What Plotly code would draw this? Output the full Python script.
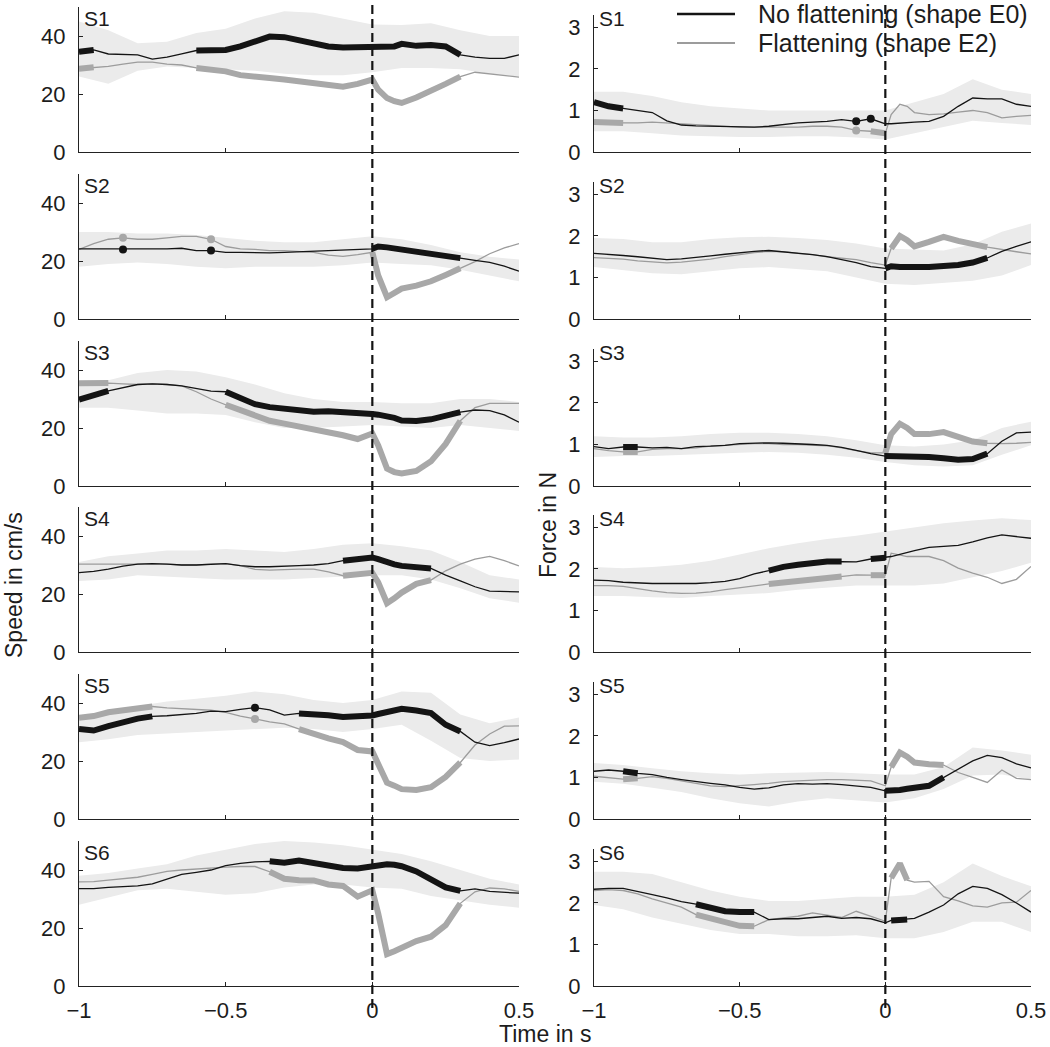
import plotly.graph_objects as go

# ---------------- data ----------------
T = [-1.0, -0.95, -0.9, -0.85, -0.8, -0.75, -0.7, -0.65, -0.6, -0.55, -0.5, -0.45, -0.4, -0.35,
     -0.3, -0.25, -0.2, -0.15, -0.1, -0.05, 0.0, 0.02, 0.05, 0.075, 0.1, 0.15, 0.2, 0.25, 0.3,
     0.35, 0.4, 0.45, 0.5]
TB = [-1.0, -0.9, -0.8, -0.7, -0.6, -0.5, -0.4, -0.3, -0.2, -0.1, 0.0, 0.1, 0.2, 0.3, 0.4, 0.5]

SUBJECTS = ["S1", "S2", "S3", "S4", "S5", "S6"]
X_TICKS = [-1, -0.5, 0, 0.5]
X_TICKTEXT = ["\u22121", "\u22120.5", "0", "0.5"]
SPEED_TICKS = [0, 20, 40]
FORCE_TICKS = [0, 1, 2, 3]
LEGEND_LABELS = ["No flattening (shape E0)", "Flattening (shape E2)"]

# Speed (cm/s)
SPD_S1_E0 = [34.6, 35.2, 33.8, 33.7, 33.5, 32.0, 32.7, 33.8, 35.0, 35.2, 35.2, 36.4, 38.0, 39.8, 39.6, 38.4, 37.7, 36.4, 36.0, 36.0, 36.1, 36.1, 36.4, 36.4, 37.3, 36.6, 36.9, 36.4, 33.5, 32.7, 32.3, 32.3, 33.5]
SPD_S1_E2 = [28.7, 29.2, 29.5, 30.3, 31.0, 31.0, 30.3, 30.0, 29.0, 28.5, 27.8, 26.5, 25.8, 25.5, 25.0, 24.3, 23.7, 23.0, 22.5, 23.5, 25.0, 21.5, 18.6, 17.5, 16.9, 18.8, 21.0, 23.5, 26.0, 27.5, 27.0, 26.5, 25.8]
SPD_S1_HI = [45, 42, 37.5, 38, 41, 42.5, 46, 48.5, 48, 46, 44, 43.8, 44.4, 42, 40, 40]
SPD_S1_LO = [26, 23.5, 28, 29.5, 29, 28.5, 28, 27, 26.5, 26.5, 27.5, 29, 29, 28.5, 27, 26]
SPD_S1_SIG_E0 = [[-1.0, -0.92], [-0.62, 0.32]]
SPD_S1_SIG_E2 = [[-1.0, -0.92], [-0.64, 0.33]]

SPD_S2_E0 = [24.2, 24.2, 24.0, 24.0, 24.2, 24.2, 24.2, 24.4, 23.6, 23.6, 23.0, 23.0, 22.8, 22.8, 23.0, 23.2, 23.4, 23.4, 23.6, 23.8, 24.2, 25.0, 24.7, 24.3, 24.0, 23.5, 22.8, 21.8, 21.0, 20.2, 19.5, 18.2, 16.5]
SPD_S2_E2 = [24.0, 26.0, 27.5, 28.0, 27.5, 27.5, 28.0, 28.5, 28.5, 27.5, 25.0, 24.2, 24.0, 23.6, 23.6, 23.4, 23.0, 22.0, 21.6, 22.2, 23.0, 15.0, 7.5, 9.0, 10.5, 11.5, 13.0, 15.2, 17.5, 19.8, 22.5, 24.5, 26.0]
SPD_S2_HI = [30, 30, 29.5, 29.5, 29, 28, 27, 26.5, 26.5, 27.5, 28.5, 27.5, 25.5, 23, 21.5, 20.5]
SPD_S2_LO = [18, 19, 19.5, 19, 18, 17.5, 18, 18, 18, 18.5, 19.5, 19, 18.5, 17, 15, 13]
SPD_S2_SIG_E0 = [[-0.86, -0.84], [-0.56, -0.54], [0.0, 0.32]]
SPD_S2_SIG_E2 = [[-0.86, -0.84], [-0.56, -0.54], [0.0, 0.32]]

SPD_S3_E0 = [29.8, 31.5, 32.8, 34.0, 35.0, 35.2, 35.0, 34.5, 33.5, 32.7, 32.5, 30.5, 28.2, 27.2, 26.5, 26.0, 25.6, 25.8, 25.6, 25.2, 24.8, 24.6, 24.2, 23.5, 22.6, 22.4, 23.0, 24.0, 25.5, 26.2, 26.0, 24.5, 22.0]
SPD_S3_E2 = [35.4, 35.4, 35.5, 35.2, 35.0, 35.2, 35.0, 34.5, 32.5, 30.0, 28.0, 26.0, 24.0, 22.5, 21.5, 20.5, 19.8, 18.7, 17.5, 16.2, 18.1, 14.0, 6.0, 4.8, 4.3, 5.2, 8.5, 14.5, 22.5, 27.0, 28.5, 28.5, 28.5]
SPD_S3_HI = [36, 36.5, 39, 40, 39.5, 37.5, 35, 32, 30, 29, 29, 28.5, 28.5, 30, 30, 29]
SPD_S3_LO = [27, 27, 26, 25, 25, 24.5, 22, 20, 20, 20.5, 21, 20.5, 20, 21, 20, 19]
SPD_S3_SIG_E0 = [[-1.0, -0.9], [-0.5, 0.32]]
SPD_S3_SIG_E2 = [[-1.0, -0.9], [-0.54, 0.33]]

SPD_S4_E0 = [27.4, 27.8, 28.6, 29.6, 30.3, 30.5, 30.3, 30.0, 30.0, 30.3, 30.5, 29.8, 29.4, 29.4, 29.7, 29.8, 30.0, 30.5, 31.5, 32.3, 32.6, 32.0, 30.9, 30.2, 29.7, 29.5, 28.8, 26.5, 24.5, 22.5, 21.0, 20.8, 20.7]
SPD_S4_E2 = [30.3, 30.3, 30.3, 30.3, 30.3, 30.5, 30.3, 30.0, 30.0, 30.3, 30.5, 29.8, 28.5, 28.2, 28.5, 28.6, 28.6, 27.6, 26.3, 26.6, 27.3, 24.0, 16.8, 18.5, 20.5, 23.5, 24.8, 28.0, 30.3, 32.0, 33.0, 31.5, 29.7]
SPD_S4_HI = [31, 33, 34, 35, 35, 35.5, 35, 34.5, 35.5, 37, 37.5, 36.5, 35, 31, 26.5, 25]
SPD_S4_LO = [24.5, 25, 26.5, 26, 25.5, 25, 25, 25, 25.5, 26, 26.5, 26.5, 25, 22, 18.5, 17]
SPD_S4_SIG_E0 = [[-0.14, 0.22]]
SPD_S4_SIG_E2 = [[-0.14, 0.22]]

SPD_S5_E0 = [31.0, 30.5, 32.0, 33.5, 34.6, 35.4, 35.6, 36.0, 36.4, 37.2, 37.0, 37.8, 38.4, 37.6, 35.8, 36.4, 36.2, 35.8, 35.2, 35.2, 35.7, 36.2, 36.8, 37.4, 38.0, 37.4, 36.5, 32.5, 30.2, 26.5, 25.3, 26.3, 27.6]
SPD_S5_E2 = [34.9, 35.5, 36.8, 37.5, 38.0, 38.8, 38.3, 38.0, 37.8, 37.5, 36.8, 35.5, 34.5, 33.5, 32.8, 31.0, 29.3, 27.8, 26.5, 23.8, 23.3, 19.0, 12.5, 11.5, 10.3, 10.0, 11.0, 14.5, 19.5, 25.5, 29.3, 32.0, 32.1]
SPD_S5_HI = [34.5, 36, 39, 40.5, 41.5, 42.5, 44, 43, 41, 40, 41, 44, 43.5, 36, 33, 35]
SPD_S5_LO = [26.5, 27.5, 29, 29.5, 30, 30.5, 31, 31.5, 31, 30, 31, 32.5, 27, 21, 20, 20.5]
SPD_S5_SIG_E0 = [[-1.0, -0.74], [-0.41, -0.39], [-0.28, 0.34]]
SPD_S5_SIG_E2 = [[-1.0, -0.74], [-0.41, -0.39], [-0.27, 0.34]]

SPD_S6_E0 = [33.6, 33.6, 34.0, 34.2, 34.5, 35.2, 36.8, 38.5, 39.2, 40.0, 41.5, 42.3, 42.8, 43.0, 42.5, 43.3, 42.5, 41.2, 40.7, 40.5, 41.5, 41.8, 42.0, 41.8, 41.3, 39.5, 36.8, 34.0, 32.8, 33.5, 32.6, 32.3, 32.0]
SPD_S6_E2 = [35.9, 36.0, 36.5, 37.0, 37.5, 38.5, 39.5, 40.0, 40.4, 40.6, 41.0, 41.2, 41.2, 39.4, 37.0, 36.5, 36.4, 35.0, 34.5, 30.8, 33.0, 25.0, 11.0, 12.0, 13.1, 15.5, 17.0, 21.0, 28.5, 32.5, 33.8, 33.5, 32.6]
SPD_S6_HI = [38, 39, 40.5, 42, 45, 47, 49, 50, 49.5, 48.5, 47, 45.5, 43, 40, 37, 35]
SPD_S6_LO = [28, 30.5, 33, 33.5, 32.5, 31.5, 32, 34, 35, 35, 34, 33.5, 31, 29.5, 28, 27]
SPD_S6_SIG_E0 = [[-0.36, 0.33]]
SPD_S6_SIG_E2 = [[-0.36, 0.33]]

# Force (N)
FRC_S1_E0 = [1.2, 1.1, 1.05, 1.0, 0.95, 0.75, 0.65, 0.63, 0.62, 0.62, 0.6, 0.6, 0.62, 0.66, 0.7, 0.72, 0.74, 0.78, 0.74, 0.8, 0.68, 0.68, 0.7, 0.7, 0.72, 0.74, 0.86, 1.1, 1.3, 1.28, 1.28, 1.15, 1.1]
FRC_S1_E2 = [0.72, 0.72, 0.7, 0.7, 0.72, 0.7, 0.68, 0.66, 0.64, 0.62, 0.6, 0.6, 0.6, 0.6, 0.6, 0.62, 0.62, 0.6, 0.52, 0.5, 0.45, 0.9, 1.15, 1.1, 0.95, 0.9, 0.92, 0.96, 1.0, 0.95, 0.82, 0.86, 0.88]
FRC_S1_HI = [1.45, 1.45, 1.35, 1.2, 1.1, 1.05, 1.0, 1.0, 1.0, 1.0, 1.0, 1.2, 1.4, 1.75, 1.5, 1.4]
FRC_S1_LO = [0.5, 0.5, 0.45, 0.4, 0.38, 0.36, 0.36, 0.38, 0.38, 0.35, 0.3, 0.45, 0.6, 0.75, 0.7, 0.65]
FRC_S1_SIG_E0 = [[-1.0, -0.86], [-0.11, -0.09], [-0.06, -0.04]]
FRC_S1_SIG_E2 = [[-1.0, -0.86], [-0.11, -0.09], [-0.06, 0.0]]

FRC_S2_E0 = [1.58, 1.56, 1.53, 1.5, 1.47, 1.43, 1.45, 1.48, 1.52, 1.56, 1.6, 1.63, 1.65, 1.62, 1.58, 1.55, 1.5, 1.43, 1.36, 1.26, 1.22, 1.27, 1.25, 1.24, 1.25, 1.25, 1.26, 1.3, 1.36, 1.47, 1.63, 1.75, 1.86]
FRC_S2_E2 = [1.48, 1.46, 1.44, 1.4, 1.37, 1.35, 1.37, 1.4, 1.44, 1.5, 1.55, 1.6, 1.63, 1.62, 1.58, 1.55, 1.5, 1.47, 1.43, 1.36, 1.3, 1.7, 2.0, 1.9, 1.75, 1.86, 1.98, 1.88, 1.82, 1.73, 1.67, 1.62, 1.57]
FRC_S2_HI = [1.95, 1.93, 1.85, 1.85, 1.93, 1.97, 1.98, 1.95, 1.9, 1.82, 1.7, 1.68, 1.65, 1.8, 2.1, 2.3]
FRC_S2_LO = [1.25, 1.18, 1.1, 1.08, 1.15, 1.22, 1.25, 1.2, 1.15, 1.0, 0.85, 0.82, 0.87, 0.92, 1.05, 1.3]
FRC_S2_SIG_E0 = [[0.0, 0.35]]
FRC_S2_SIG_E2 = [[0.01, 0.35]]

FRC_S3_E0 = [0.95, 0.9, 0.94, 0.94, 0.92, 0.93, 0.9, 0.95, 0.96, 0.98, 1.02, 1.03, 1.04, 1.03, 1.02, 1.0, 0.98, 0.93, 0.86, 0.78, 0.72, 0.72, 0.73, 0.72, 0.72, 0.7, 0.67, 0.63, 0.65, 0.78, 1.08, 1.28, 1.3]
FRC_S3_E2 = [0.9, 0.85, 0.82, 0.82, 0.88, 0.9, 0.9, 0.92, 0.96, 0.98, 1.0, 1.02, 1.02, 1.0, 1.0, 0.98, 0.97, 0.92, 0.85, 0.8, 0.8, 1.25, 1.5, 1.4, 1.25, 1.25, 1.3, 1.2, 1.07, 1.03, 1.02, 1.03, 1.05]
FRC_S3_HI = [1.2, 1.17, 1.17, 1.2, 1.25, 1.28, 1.28, 1.25, 1.2, 1.1, 0.98, 0.95, 1.0, 1.1, 1.4, 1.55]
FRC_S3_LO = [0.7, 0.72, 0.72, 0.75, 0.78, 0.8, 0.82, 0.8, 0.75, 0.68, 0.58, 0.5, 0.47, 0.5, 0.75, 0.98]
FRC_S3_SIG_E0 = [[-0.92, -0.84], [0.0, 0.35]]
FRC_S3_SIG_E2 = [[-0.92, -0.84], [0.0, 0.35]]

FRC_S4_E0 = [1.73, 1.72, 1.68, 1.66, 1.65, 1.65, 1.65, 1.65, 1.67, 1.7, 1.77, 1.88, 1.96, 2.05, 2.1, 2.15, 2.18, 2.18, 2.17, 2.24, 2.27, 2.3, 2.35, 2.4, 2.44, 2.52, 2.55, 2.57, 2.65, 2.75, 2.82, 2.78, 2.74]
FRC_S4_E2 = [1.6, 1.6, 1.58, 1.52, 1.47, 1.43, 1.41, 1.42, 1.45, 1.5, 1.55, 1.6, 1.64, 1.67, 1.7, 1.73, 1.78, 1.82, 1.86, 1.85, 1.85, 2.38, 2.33, 2.3, 2.3, 2.3, 2.2, 2.02, 1.9, 1.8, 1.65, 1.75, 2.06]
FRC_S4_HI = [2.05, 2.02, 2.05, 2.1, 2.2, 2.35, 2.5, 2.62, 2.72, 2.8, 2.9, 3.0, 3.1, 3.17, 3.22, 3.18]
FRC_S4_LO = [1.35, 1.35, 1.32, 1.3, 1.35, 1.38, 1.42, 1.5, 1.55, 1.6, 1.6, 1.6, 1.65, 1.8, 1.95, 2.15]
FRC_S4_SIG_E0 = [[-0.44, -0.11], [-0.05, 0.0]]
FRC_S4_SIG_E2 = [[-0.44, -0.11], [-0.05, 0.0]]

FRC_S5_E0 = [1.15, 1.18, 1.15, 1.1, 1.07, 1.0, 0.95, 0.9, 0.86, 0.82, 0.76, 0.72, 0.75, 0.82, 0.85, 0.84, 0.85, 0.83, 0.8, 0.76, 0.68, 0.68, 0.7, 0.73, 0.76, 0.8, 1.0, 1.22, 1.4, 1.53, 1.48, 1.33, 1.23]
FRC_S5_E2 = [1.03, 1.0, 0.96, 0.98, 1.02, 0.98, 0.92, 0.85, 0.8, 0.78, 0.8, 0.83, 0.86, 0.9, 0.92, 0.94, 0.95, 0.95, 0.94, 0.92, 0.8, 1.25, 1.6, 1.5, 1.36, 1.32, 1.3, 1.12, 1.0, 0.88, 1.18, 0.98, 0.95]
FRC_S5_HI = [1.35, 1.3, 1.22, 1.15, 1.1, 1.07, 1.1, 1.12, 1.13, 1.1, 1.07, 1.07, 1.25, 1.72, 1.65, 1.55]
FRC_S5_LO = [0.9, 0.85, 0.75, 0.65, 0.5, 0.38, 0.3, 0.42, 0.5, 0.45, 0.4, 0.5, 0.72, 1.05, 1.07, 0.95]
FRC_S5_SIG_E0 = [[-0.91, -0.84], [0.0, 0.2]]
FRC_S5_SIG_E2 = [[-0.91, -0.84], [0.01, 0.2]]

FRC_S6_E0 = [2.33, 2.35, 2.35, 2.28, 2.2, 2.12, 2.03, 1.97, 1.88, 1.8, 1.78, 1.78, 1.6, 1.62, 1.62, 1.65, 1.68, 1.63, 1.65, 1.62, 1.52, 1.58, 1.6, 1.6, 1.63, 1.78, 1.95, 2.22, 2.4, 2.35, 2.2, 2.0, 1.78]
FRC_S6_E2 = [2.3, 2.32, 2.3, 2.22, 2.1, 2.0, 1.9, 1.72, 1.62, 1.52, 1.45, 1.44, 1.6, 1.64, 1.68, 1.76, 1.7, 1.65, 1.8, 1.68, 1.56, 2.6, 2.95, 2.55, 2.5, 2.52, 2.15, 2.05, 1.93, 1.9, 2.0, 2.02, 2.3]
FRC_S6_HI = [2.75, 2.75, 2.7, 2.5, 2.3, 2.15, 2.05, 2.05, 2.1, 2.15, 2.15, 2.2, 2.5, 2.95, 2.65, 2.4]
FRC_S6_LO = [1.95, 1.85, 1.65, 1.5, 1.35, 1.25, 1.25, 1.2, 1.2, 1.22, 1.15, 1.15, 1.3, 1.55, 1.55, 1.3]
FRC_S6_SIG_E0 = [[-0.68, -0.43], [0.01, 0.08]]
FRC_S6_SIG_E2 = [[-0.66, -0.43], [0.01, 0.08]]

SPEED = [
    (SPD_S1_E0, SPD_S1_E2, SPD_S1_HI, SPD_S1_LO, SPD_S1_SIG_E0, SPD_S1_SIG_E2),
    (SPD_S2_E0, SPD_S2_E2, SPD_S2_HI, SPD_S2_LO, SPD_S2_SIG_E0, SPD_S2_SIG_E2),
    (SPD_S3_E0, SPD_S3_E2, SPD_S3_HI, SPD_S3_LO, SPD_S3_SIG_E0, SPD_S3_SIG_E2),
    (SPD_S4_E0, SPD_S4_E2, SPD_S4_HI, SPD_S4_LO, SPD_S4_SIG_E0, SPD_S4_SIG_E2),
    (SPD_S5_E0, SPD_S5_E2, SPD_S5_HI, SPD_S5_LO, SPD_S5_SIG_E0, SPD_S5_SIG_E2),
    (SPD_S6_E0, SPD_S6_E2, SPD_S6_HI, SPD_S6_LO, SPD_S6_SIG_E0, SPD_S6_SIG_E2),
]
FORCE = [
    (FRC_S1_E0, FRC_S1_E2, FRC_S1_HI, FRC_S1_LO, FRC_S1_SIG_E0, FRC_S1_SIG_E2),
    (FRC_S2_E0, FRC_S2_E2, FRC_S2_HI, FRC_S2_LO, FRC_S2_SIG_E0, FRC_S2_SIG_E2),
    (FRC_S3_E0, FRC_S3_E2, FRC_S3_HI, FRC_S3_LO, FRC_S3_SIG_E0, FRC_S3_SIG_E2),
    (FRC_S4_E0, FRC_S4_E2, FRC_S4_HI, FRC_S4_LO, FRC_S4_SIG_E0, FRC_S4_SIG_E2),
    (FRC_S5_E0, FRC_S5_E2, FRC_S5_HI, FRC_S5_LO, FRC_S5_SIG_E0, FRC_S5_SIG_E2),
    (FRC_S6_E0, FRC_S6_E2, FRC_S6_HI, FRC_S6_LO, FRC_S6_SIG_E0, FRC_S6_SIG_E2),
]

# ---------------- styling / layout ----------------
W, H = 1050, 1047
FONT = "Liberation Sans, Arial, sans-serif"
BLACK = "#141414"
GRAY_THIN = "#9c9c9c"
GRAY_THICK = "#a8a8a8"
BAND = "#ebebeb"
TXT = "#1c1c1c"

COL_X = [(79, 519), (594, 1031)]          # pixel extents of columns
BOTTOMS = [152, 319, 486, 652, 819, 986]  # pixel y of x-axis for each row
HEIGHTS = [145, 137]                      # panel heights (left / right)
YRANGES = [[0, 50], [0, 3.3]]
TICK_FS = 22


def px_x(p):
    return p / W


def px_y(p):
    return 1 - p / H


def sig_xy(vals, intervals):
    """Thick-line segments (>=2 samples) and isolated single-sample blobs."""
    lx, ly, mx, my = [], [], [], []
    for a, b in intervals:
        seg = [(t, v) for t, v in zip(T, vals) if a - 1e-9 <= t <= b + 1e-9]
        if len(seg) == 1:
            mx.append(seg[0][0])
            my.append(seg[0][1])
        elif seg:
            lx += [p[0] for p in seg] + [None]
            ly += [p[1] for p in seg] + [None]
    return lx, ly, mx, my


fig = go.Figure()
layout = {}
annotations = []

for r in range(6):
    for c in range(2):
        idx = r * 2 + c + 1
        xa = "x" if idx == 1 else f"x{idx}"
        ya = "y" if idx == 1 else f"y{idx}"
        e0, e2, hi, lo, s0, s2 = (SPEED if c == 0 else FORCE)[r]

        # band
        fig.add_trace(go.Scatter(x=TB, y=lo, mode="lines", line=dict(width=0, color=BAND),
                                 hoverinfo="skip", xaxis=xa, yaxis=ya, showlegend=False))
        fig.add_trace(go.Scatter(x=TB, y=hi, mode="lines", line=dict(width=0, color=BAND),
                                 fill="tonexty", fillcolor=BAND, hoverinfo="skip",
                                 xaxis=xa, yaxis=ya, showlegend=False))
        # thin lines
        fig.add_trace(go.Scatter(x=T, y=e2, mode="lines", line=dict(width=1.3, color=GRAY_THIN),
                                 name=LEGEND_LABELS[1], xaxis=xa, yaxis=ya, showlegend=False))
        fig.add_trace(go.Scatter(x=T, y=e0, mode="lines", line=dict(width=1.3, color=BLACK),
                                 name=LEGEND_LABELS[0], xaxis=xa, yaxis=ya, showlegend=False))
        # thick (significant) segments
        for vals, sig, col in ((e2, s2, GRAY_THICK), (e0, s0, BLACK)):
            lx, ly, mx, my = sig_xy(vals, sig)
            if lx:
                fig.add_trace(go.Scatter(x=lx, y=ly, mode="lines",
                                         line=dict(width=6, color=col),
                                         xaxis=xa, yaxis=ya, showlegend=False,
                                         connectgaps=False))
            if mx:
                fig.add_trace(go.Scatter(x=mx, y=my, mode="markers",
                                         marker=dict(size=8, color=col),
                                         xaxis=xa, yaxis=ya, showlegend=False))

        x0p, x1p = COL_X[c]
        bot = BOTTOMS[r]
        top = bot - HEIGHTS[c]
        key = "" if idx == 1 else str(idx)
        layout["xaxis" + key] = dict(
            domain=[px_x(x0p), px_x(x1p)], anchor=ya, range=[-1, 0.5], automargin=False,
            tickvals=X_TICKS, ticktext=X_TICKTEXT, showticklabels=(r == 5),
            ticks="inside", ticklen=4, tickwidth=1, tickcolor="#222",
            showline=True, linecolor="#222", linewidth=1.2, showgrid=False, zeroline=False,
            tickfont=dict(size=TICK_FS, color=TXT, family=FONT), ticklabelstandoff=4,
            ticklabeloverflow="allow",
        )
        layout["yaxis" + key] = dict(
            domain=[px_y(bot), px_y(top)], anchor=xa, range=YRANGES[c], automargin=False,
            tickvals=SPEED_TICKS if c == 0 else FORCE_TICKS,
            ticks="inside", ticklen=4, tickwidth=1, tickcolor="#222",
            showline=True, linecolor="#222", linewidth=1.2, showgrid=False, zeroline=False,
            tickfont=dict(size=TICK_FS, color=TXT, family=FONT), ticklabelstandoff=8,
            ticklabeloverflow="allow",
        )
        annotations.append(dict(
            text=SUBJECTS[r], xref="paper", yref="paper",
            x=px_x(x0p + 3), y=px_y(BOTTOMS[r] - 147), xanchor="left", yanchor="top",
            showarrow=False, font=dict(size=21, color=TXT, family=FONT)))

# axis titles
annotations += [
    dict(text="Speed in cm/s", xref="paper", yref="paper", x=px_x(14), y=px_y(585),
         xanchor="center", yanchor="middle",
         textangle=-90, showarrow=False, font=dict(size=23, color=TXT, family=FONT)),
    dict(text="Force in N", xref="paper", yref="paper", x=px_x(548), y=px_y(525),
         xanchor="center", yanchor="middle",
         textangle=-90, showarrow=False, font=dict(size=23, color=TXT, family=FONT)),
    dict(text="Time in s", xref="paper", yref="paper", x=px_x(545), y=px_y(1034),
         xanchor="center", yanchor="middle",
         showarrow=False, font=dict(size=23, color=TXT, family=FONT)),
]
# legend
annotations += [
    dict(text=LEGEND_LABELS[0], xref="paper", yref="paper", x=px_x(756), y=px_y(14),
         xanchor="left", yanchor="middle", showarrow=False,
         font=dict(size=25, color=TXT, family=FONT)),
    dict(text=LEGEND_LABELS[1], xref="paper", yref="paper", x=px_x(756), y=px_y(43),
         xanchor="left", yanchor="middle", showarrow=False,
         font=dict(size=25, color=TXT, family=FONT)),
]

shapes = [
    dict(type="line", xref="paper", yref="paper", x0=px_x(677), x1=px_x(735),
         y0=px_y(14), y1=px_y(14), line=dict(color=BLACK, width=2.5)),
    dict(type="line", xref="paper", yref="paper", x0=px_x(677), x1=px_x(735),
         y0=px_y(43), y1=px_y(43), line=dict(color=GRAY_THIN, width=2)),
    dict(type="line", xref="x", yref="paper", x0=0, x1=0, y0=px_y(1008), y1=1,
         line=dict(color=BLACK, width=2.2, dash="9px,5px"), layer="above"),
    dict(type="line", xref="x2", yref="paper", x0=0, x1=0, y0=px_y(1008), y1=1,
         line=dict(color=BLACK, width=2.2, dash="9px,5px"), layer="above"),
]

fig.update_layout(
    width=W, height=H, margin=dict(l=0, r=0, t=0, b=0),
    paper_bgcolor="white", plot_bgcolor="white", showlegend=False,
    font=dict(family=FONT, color=TXT), annotations=annotations, shapes=shapes,
    **layout,
)

fig.write_html(
    "out.html",
    config={"displayModeBar": False},
    post_script="document.body.style.margin='0px';document.body.style.padding='0px';"
                "document.documentElement.style.overflow='hidden';",
)
